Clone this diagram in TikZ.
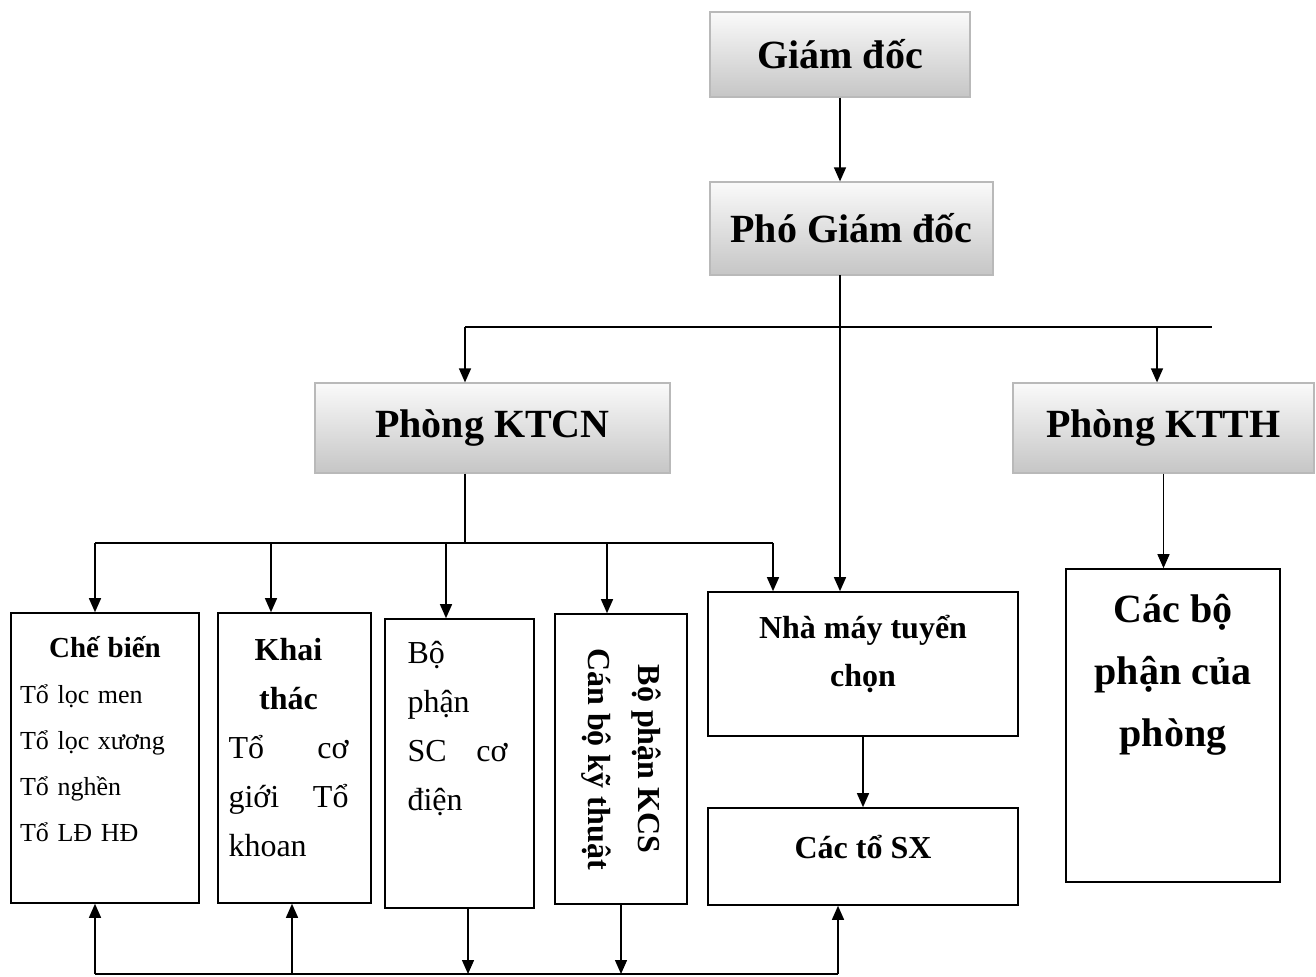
\documentclass[tikz,border=0pt]{standalone}
\usepackage{fontspec}
\setmainfont{Liberation Serif}
\usetikzlibrary{arrows.meta,positioning}

\tikzset{
  head/.style={draw=gray!55, line width=0.6pt, top color=gray!4, bottom color=gray!45,
    inner sep=0pt, font=\fontsize{20}{24}\selectfont\bfseries},
  box/.style={draw, line width=0.8pt, inner sep=0pt},
  intext/.style={inner sep=0pt},
  arr/.style={line width=0.7pt, -{Triangle[length=7pt,width=6pt]}},
  bus/.style={line width=0.7pt},
}

\begin{document}
\begin{tikzpicture}[x=0.5pt,y=-0.5pt]
\useasboundingbox[fill=white] (0,0) rectangle (1316,977);

% top levels
\node[head, minimum width=130pt, minimum height=42.5pt] (gd) at (840,54.5) {Giám đốc};
\node[head, minimum width=141.5pt, minimum height=46.5pt] (pgd) at (851.5,228.5) {Phó Giám đốc};
\node[head, minimum width=177.5pt, minimum height=45pt] (ktcn) at (492.5,428) {Phòng KTCN};
\node[head, minimum width=150.5pt, minimum height=45pt] (ktth) at (1163.5,428) {Phòng KTTH};

% units
\node[box, minimum width=94pt, minimum height=145pt] (cb) at (105,758) {};
\node[box, minimum width=76.5pt, minimum height=145pt] (kt) at (294.5,758) {};
\node[box, minimum width=74.5pt, minimum height=144.5pt] (sc) at (459.5,763.5) {};
\node[box, minimum width=66pt, minimum height=145pt] (kcs) at (621,759) {};
\node[box, minimum width=155pt, minimum height=72pt] (nm) at (863,664) {};
\node[box, minimum width=155pt, minimum height=48.5pt] (sx) at (863,856.5) {};
\node[box, minimum width=107pt, minimum height=156.5pt] (bp) at (1173,725.5) {};

% texts inside the units
\node[intext, below=12pt of cb.north, text width=85pt, align=left,
  font=\fontsize{13}{23}\selectfont] (cbt)
  {\makebox[85pt]{\fontsize{14.5}{23}\selectfont\bfseries Chế biến}\\Tổ lọc men\\Tổ lọc xương\\Tổ nghền\\Tổ LĐ HĐ};
\node[intext, below=13pt of kt.north, xshift=-3pt, text width=60pt, align=center,
  font=\fontsize{16}{24.5}\selectfont] (ktt)
  {\textbf{Khai}\\\textbf{thác}\\\makebox[60pt]{Tổ\hfill cơ}\\\makebox[60pt]{giới\hfill Tổ}\\\makebox[60pt][l]{khoan}};
\node[intext, below=11.5pt of sc.north, xshift=-1pt, text width=50pt, align=left,
  font=\fontsize{16}{24.5}\selectfont] (sct)
  {Bộ\\phận\\\makebox[50pt]{SC\hfill cơ}\\điện};
\node[intext, rotate=-90, align=center, font=\fontsize{16}{25}\selectfont\bfseries] (kcst)
  at (kcs) {Bộ phận KCS\\Cán bộ kỹ thuật};
\node[intext, below=12pt of nm.north, align=center, font=\fontsize{16}{24}\selectfont\bfseries] (nmt)
  {Nhà máy tuyển\\chọn};
\node[intext, font=\fontsize{16}{24}\selectfont\bfseries] (sxt)
  at ([yshift=4.5pt]sx.center) {Các tổ SX};
\node[intext, below=13pt of bp.north, align=center, font=\fontsize{20}{31}\selectfont\bfseries] (bpt)
  {Các bộ\\phận của\\phòng};

% connectors
\draw[arr] (gd.south) -- (gd.south |- pgd.north);
\coordinate (tr) at (840,275);
\draw[arr] (tr) -- (tr |- nm.north);
\coordinate (b1a) at (465,327);
\coordinate (b1b) at (1157,327);
\coordinate (b1c) at (1212,327);
\draw[bus] (b1a) -- (b1c);
\draw[arr] (b1a) -- (b1a |- ktcn.north);
\draw[arr] (b1b) -- (b1b |- ktth.north);

\coordinate (b2) at (465,543);
\draw[bus] (b2 |- ktcn.south) -- (b2);
\foreach \px/\nd in {95/cb,271/kt,446/sc,607/kcs,773/nm}{
  \coordinate (up-\nd) at (\px,543);
  \draw[arr] (up-\nd) -- (up-\nd |- \nd.north);
}
\draw[bus] (up-cb) -- (up-nm);

\foreach \px/\nd in {95/cb,292/kt,838/sx}{
  \coordinate (dn-\nd) at (\px,974);
  \draw[arr] (dn-\nd) -- (dn-\nd |- \nd.south);
}
\foreach \px/\nd in {468/sc,621/kcs}{
  \coordinate (dn-\nd) at (\px,974);
  \draw[arr] (dn-\nd |- \nd.south) -- (dn-\nd);
}
\draw[bus] (dn-cb) -- (dn-sx);

\draw[arr] (nm) -- (sx);
\draw[arr] (ktth.south) -- (ktth.south |- bp.north);
\end{tikzpicture}
\end{document}
